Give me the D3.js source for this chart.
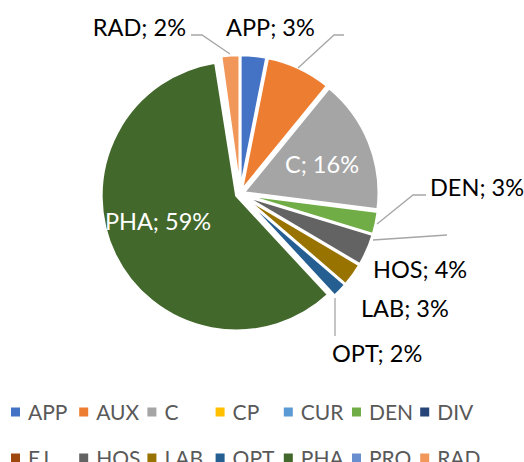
<!DOCTYPE html>
<html>
<head>
<meta charset="utf-8">
<script src="https://cdn.jsdelivr.net/npm/d3@7"></script>
<style>
  body { margin: 0; background: #fff; }
  svg { display: block; font-family: Lato, "Liberation Sans", sans-serif; }
</style>
</head>
<body>
<div class="chart"></div>
<script>
// categories & shares (percent)
const categories = ["APP", "AUX", "C", "CP", "CUR", "DEN", "DIV", "EJ", "HOS", "LAB", "OPT", "PHA", "PRO", "RAD"];
const shares     = [3.1, 7.8, 16.1, 0, 0, 2.7, 0, 0, 3.8, 2.8, 1.8, 59.4, 0.3, 2.2];
const colors     = ["#4472C4", "#ED7D31", "#A5A5A5", "#FFC000", "#5B9BD5", "#70AD47", "#264478",
                    "#9E480E", "#636363", "#997300", "#255E91", "#43682B", "#698ED0", "#F1975A"];
// which categories get a visible data label (AUX label is blank in the original)
const labelled   = ["APP", "C", "DEN", "HOS", "LAB", "OPT", "PHA", "RAD"];

const width = 524, height = 462;
const cx = 240, cy = 194, radius = 135, explode = 4;

const svg = d3.select(".chart").append("svg")
    .attr("width", width)
    .attr("height", height);

const data = categories.map((c, i) => ({name: c, value: shares[i], color: colors[i]}));
const total = d3.sum(shares);

const pie = d3.pie().value(d => d.value).sort(null);
const arc = d3.arc().innerRadius(0).outerRadius(radius);
const arcs = pie(data);

const g = svg.append("g").attr("transform", `translate(${cx},${cy})`);

g.selectAll("path")
    .data(arcs.filter(d => d.data.value > 0))
    .join("path")
    .attr("d", arc)
    .attr("fill", d => d.data.color)
    .attr("stroke", "#fff")
    .attr("stroke-width", 2.5)
    .attr("stroke-linejoin", "round")
    .attr("transform", d => {
        const a = (d.startAngle + d.endAngle) / 2;
        return `translate(${explode * Math.sin(a)},${-explode * Math.cos(a)})`;
    });

// label placement (layout only): absolute position, anchor, inside/outside
const labelPos = {
    RAD: {x: 186, y: 36, anchor: "end"},
    APP: {x: 226, y: 36, anchor: "start"},
    C:   {x: 322, y: 173, anchor: "middle", inside: true},
    PHA: {x: 158, y: 230, anchor: "middle", inside: true},
    DEN: {x: 430, y: 196, anchor: "start"},
    HOS: {x: 373, y: 278, anchor: "start"},
    LAB: {x: 361, y: 317, anchor: "start"},
    OPT: {x: 332, y: 362, anchor: "start"}
};

// leader lines
const leaders = [
    [[191, 35], [202, 35], [230, 54]],
    [[298, 68], [334, 35], [344, 35]],
    [[377, 224], [413, 195], [426, 195]],
    [[373, 240], [447, 235]],
    [[335, 298], [335, 336]]
];
svg.append("g").selectAll("path")
    .data(leaders)
    .join("path")
    .attr("d", d3.line())
    .attr("fill", "none")
    .attr("stroke", "#A6A6A6")
    .attr("stroke-width", 1.3);

svg.append("g").selectAll("text")
    .data(data.filter(d => labelled.includes(d.name)))
    .join("text")
    .attr("x", d => labelPos[d.name].x)
    .attr("y", d => labelPos[d.name].y)
    .attr("text-anchor", d => labelPos[d.name].anchor)
    .attr("fill", d => labelPos[d.name].inside ? "#fff" : "#000")
    .attr("font-size", 23.5)
    .text(d => `${d.name}; ${Math.round(d.value / total * 100)}%`);

// legend, two rows of seven
const perRow = 7, colW = 68.2, rowH = 46;
const legend = svg.append("g").attr("transform", "translate(11,412)");
const item = legend.selectAll("g")
    .data(data)
    .join("g")
    .attr("transform", (d, i) => `translate(${(i % perRow) * colW},${Math.floor(i / perRow) * rowH})`);
item.append("rect")
    .attr("x", 0).attr("y", -4.5)
    .attr("width", 9).attr("height", 9)
    .attr("fill", d => d.color);
item.append("text")
    .attr("x", 17).attr("y", 7.5)
    .attr("font-size", 21)
    .attr("fill", "#595959")
    .text(d => d.name);
</script>
</body>
</html>
